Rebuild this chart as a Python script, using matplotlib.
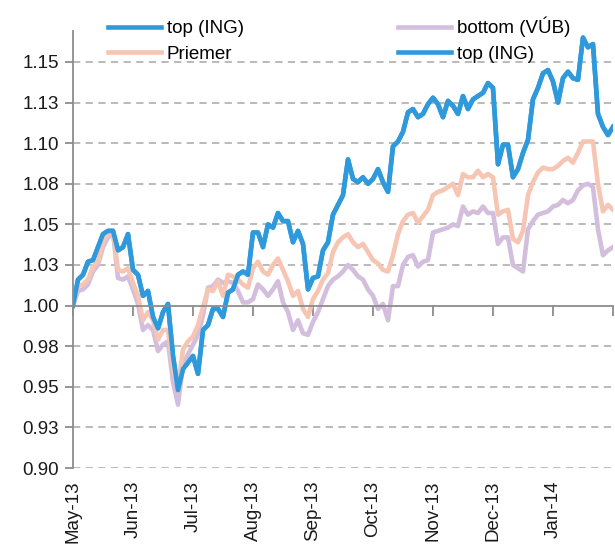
import numpy as np
import matplotlib.pyplot as plt

# index = trading-day position (category axis), month labels every 12 points
months = ['May-13', 'Jun-13', 'Jul-13', 'Aug-13', 'Sep-13', 'Oct-13', 'Nov-13', 'Dec-13', 'Jan-14']

top_ing = [1.000, 1.016, 1.019, 1.027, 1.028, 1.036, 1.044, 1.046, 1.046, 1.034,
           1.036, 1.044, 1.022, 1.019, 1.006, 1.009, 0.993, 0.986, 0.996, 1.001,
           0.969, 0.948, 0.961, 0.965, 0.969, 0.958, 0.985, 0.988, 0.998, 0.998,
           0.993, 1.008, 1.010, 1.019, 1.021, 1.019, 1.045, 1.045, 1.036, 1.050,
           1.048, 1.057, 1.052, 1.052, 1.039, 1.046, 1.038, 1.010, 1.017, 1.018,
           1.034, 1.039, 1.056, 1.062, 1.068, 1.090, 1.078, 1.076, 1.079, 1.075,
           1.078, 1.084, 1.076, 1.070, 1.098, 1.101, 1.107, 1.119, 1.121, 1.116,
           1.118, 1.124, 1.128, 1.124, 1.116, 1.126, 1.123, 1.118, 1.129, 1.121,
           1.127, 1.129, 1.131, 1.137, 1.134, 1.087, 1.099, 1.099, 1.079, 1.084,
           1.094, 1.102, 1.127, 1.134, 1.143, 1.145, 1.138, 1.125, 1.140, 1.144,
           1.140, 1.139, 1.165, 1.159, 1.161, 1.118, 1.110, 1.105, 1.110]

priemer = [1.000, 1.012, 1.013, 1.016, 1.024, 1.027, 1.039, 1.044, 1.046, 1.022,
           1.021, 1.023, 1.014, 1.006, 0.991, 0.996, 0.991, 0.979, 0.985, 0.985,
           0.961, 0.950, 0.973, 0.978, 0.981, 0.988, 0.999, 1.010, 1.009, 1.015,
           1.006, 1.019, 1.018, 1.016, 1.013, 1.011, 1.023, 1.027, 1.021, 1.019,
           1.025, 1.029, 1.022, 1.015, 1.006, 1.009, 0.998, 0.993, 1.004, 1.009,
           1.016, 1.020, 1.033, 1.039, 1.042, 1.044, 1.039, 1.036, 1.038, 1.033,
           1.028, 1.026, 1.022, 1.021, 1.031, 1.044, 1.052, 1.056, 1.057, 1.051,
           1.055, 1.059, 1.068, 1.070, 1.071, 1.073, 1.075, 1.068, 1.081, 1.079,
           1.079, 1.083, 1.079, 1.081, 1.079, 1.056, 1.058, 1.059, 1.041, 1.039,
           1.046, 1.068, 1.076, 1.082, 1.085, 1.084, 1.084, 1.086, 1.089, 1.091,
           1.088, 1.094, 1.101, 1.101, 1.101, 1.075, 1.058, 1.062, 1.059]

bottom_vub = [1.000, 1.009, 1.010, 1.013, 1.021, 1.025, 1.036, 1.042, 1.045, 1.017,
              1.016, 1.018, 1.010, 1.001, 0.985, 0.988, 0.985, 0.972, 0.976, 0.978,
              0.953, 0.939, 0.964, 0.970, 0.976, 0.982, 0.994, 1.011, 1.012, 1.016,
              1.014, 1.015, 1.014, 1.009, 1.002, 1.002, 1.004, 1.013, 1.010, 1.006,
              1.010, 1.015, 1.002, 0.996, 0.985, 0.991, 0.983, 0.982, 0.990, 0.996,
              1.004, 1.012, 1.016, 1.018, 1.021, 1.025, 1.022, 1.018, 1.016, 1.010,
              1.006, 0.998, 1.001, 0.991, 1.012, 1.012, 1.025, 1.030, 1.031, 1.024,
              1.027, 1.028, 1.045, 1.046, 1.047, 1.048, 1.050, 1.049, 1.061, 1.056,
              1.058, 1.057, 1.061, 1.057, 1.057, 1.038, 1.042, 1.042, 1.025, 1.023,
              1.021, 1.047, 1.052, 1.056, 1.057, 1.058, 1.061, 1.062, 1.065, 1.063,
              1.065, 1.071, 1.074, 1.075, 1.073, 1.047, 1.031, 1.034, 1.036]

y_ticks = [0.900, 0.925, 0.950, 0.975, 1.000, 1.025, 1.050, 1.075, 1.100, 1.125, 1.150]
y_labels = ['0.90', '0.93', '0.95', '0.98', '1.00', '1.03', '1.05', '1.08', '1.10', '1.13', '1.15']

blue = '#2F9ADB'
peach = '#F7C5B3'
lavender = '#D4BEDD'
axis_gray = '#8C8C8C'

plt.rcParams['font.family'] = ['Liberation Sans', 'DejaVu Sans']
fs = 13.5

x = np.arange(len(top_ing))

fig = plt.figure(figsize=(6.15, 5.5), dpi=100)
ax = fig.add_axes([0.1187, 0.149, 0.878, 0.7945])

lw = 3.3
l_top, = ax.plot(x, top_ing, color=blue, lw=lw, label='top (ING)')
l_bot, = ax.plot(x, bottom_vub, color=lavender, lw=lw, label='bottom (VÚB)')
l_avg, = ax.plot(x, priemer, color=peach, lw=lw, label='Priemer')
l_top2, = ax.plot(x, top_ing, color=blue, lw=lw, label='top (ING)')

ax.set_xlim(0, len(x) - 1)
ax.set_ylim(0.90, 1.169)

# dashed horizontal grid, except at 1.00 where the x axis sits
for yv in y_ticks:
    if yv != 1.0:
        ax.axhline(yv, color='#B4B4B4', lw=1.3, ls=(0, (4, 3)), zorder=0)

ax.set_yticks(y_ticks, y_labels)
ax.tick_params(axis='y', direction='out', length=6, width=1.3, color=axis_gray,
               labelsize=fs, labelcolor='#1A1A1A', pad=4)

month_pos = np.arange(0, len(x), 12)
ax.set_xticks(month_pos)
ax.tick_params(axis='x', direction='out', length=7, width=1.3, color=axis_gray,
               labelbottom=False)

for s in ['top', 'right']:
    ax.spines[s].set_visible(False)
ax.spines['left'].set_color(axis_gray)
ax.spines['left'].set_linewidth(1.3)
ax.spines['bottom'].set_position(('data', 1.0))
ax.spines['bottom'].set_color(axis_gray)
ax.spines['bottom'].set_linewidth(1.3)

# month labels at the bottom of the plot
sec = ax.secondary_xaxis('bottom')
sec.set_xticks(month_pos[:len(months)], months, rotation=90)
sec.tick_params(length=0, pad=9, labelsize=fs, labelcolor='#1A1A1A')
sec.spines['bottom'].set_visible(False)

fig.legend([l_top, l_avg, l_bot, l_top2],
           ['top (ING)', 'Priemer', 'bottom (VÚB)', 'top (ING)'],
           ncol=2, loc='upper left', bbox_to_anchor=(0.148, 1.0),
           frameon=False, fontsize=fs, handlelength=2.85, handletextpad=0.3,
           columnspacing=8.2, labelspacing=0.45)

fig.savefig('out.png', dpi=100)
